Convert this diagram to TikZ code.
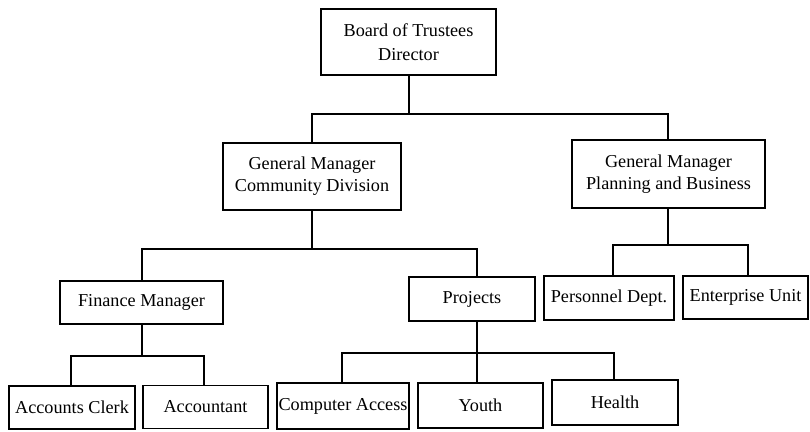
\documentclass[tikz,border=0pt]{standalone}
\usepackage{fontspec}
\setmainfont{Liberation Serif}
\begin{document}
\begin{tikzpicture}[x=1bp,y=-1bp,
  orgbox/.style={draw,line width=1.5bp,inner sep=0pt,align=center,
    font=\fontsize{18.2bp}{22bp}\selectfont},
  link/.style={line width=1.5bp}]
\useasboundingbox (0,0) rectangle (810,431);
% top
\node[orgbox,minimum width=175bp,minimum height=66bp,font=\fontsize{18.2bp}{24bp}\selectfont] (board) at (408.5,42) {Board of Trustees\\Director};
\node[orgbox,minimum width=178bp,minimum height=67bp] (gmc) at (312,176.5) {General Manager\\Community Division};
\node[orgbox,minimum width=193bp,minimum height=68bp] (gmp) at (668.5,174) {General Manager\\Planning and Business};
% middle
\node[orgbox,minimum width=163bp,minimum height=43bp] (fin) at (141.5,302.5) {Finance Manager};
\node[orgbox,minimum width=126bp,minimum height=44bp] (proj) at (472,299) {Projects};
\node[orgbox,minimum width=130bp,minimum height=44bp] (pers) at (609,298) {Personnel Dept.};
\node[orgbox,minimum width=125bp,minimum height=43bp] (ent) at (745.5,297.5) {Enterprise Unit};
% bottom
\node[orgbox,minimum width=126bp,minimum height=43bp] (clerk) at (72,407.5) {Accounts Clerk};
\node[orgbox,minimum width=125bp,minimum height=43bp] (acct) at (205.5,407) {Accountant};
\node[orgbox,minimum width=132bp,minimum height=46bp] (comp) at (343,406) {Computer Access};
\node[orgbox,minimum width=125bp,minimum height=45bp] (youth) at (480.5,405.5) {Youth};
\node[orgbox,minimum width=126bp,minimum height=45bp] (health) at (615,402.5) {Health};
% connectors
\draw[link] (board.south -| 409,0) -- (409,114);
\draw[link] (gmc.north) |- (668,114) -- (gmp.north -| 668,0);
\draw[link] (gmc.south) -- (gmc.south |- 0,249);
\draw[link] (fin.north -| 142,0) |- (477,249) -- (proj.north -| 477,0);
\draw[link] (fin.south -| 142,0) -- (142,356);
\draw[link] (clerk.north -| 71,0) |- (204,356) -- (acct.north -| 204,0);
\draw[link] (proj.south -| 477,0) -- (youth.north -| 477,0);
\draw[link] (comp.north -| 342,0) |- (614,353) -- (health.north -| 614,0);
\draw[link] (gmp.south -| 668,0) -- (668,245);
\draw[link] (pers.north -| 613,0) |- (748,245) -- (ent.north -| 748,0);
\end{tikzpicture}
\end{document}
